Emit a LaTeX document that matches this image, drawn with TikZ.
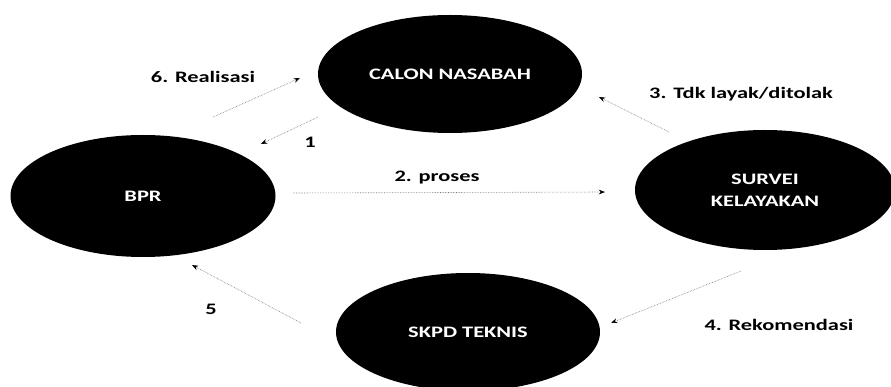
\documentclass[tikz,border=0pt]{standalone}
\usepackage{fontspec}
\setmainfont{Carlito}
\usetikzlibrary{shapes.geometric,arrows.meta}
\newcommand{\wide}[1]{\scalebox{1.4}[1]{#1}}
\tikzset{
blob/.style={
  ellipse,
  fill=black,
  text=white,
  font=\fontsize{16}{22}\selectfont\bfseries,
  align=center,
  inner sep=0pt
  },
lbl/.style={
  font=\fontsize{16}{20}\selectfont\bfseries,
  inner sep=0pt
  },
flow/.style={
  densely dotted,
  draw=black!55,
  line width=0.6pt,
  -{Stealth[scale=1.1,black]}
  }
}

\begin{document}
\begin{tikzpicture}[x=1pt,y=-1pt]
\useasboundingbox (0,0) rectangle (891,387);

\node[blob, minimum width=264pt, minimum height=118pt] (calon) at (450,74) {\wide{CALON NASABAH}};
\node[blob, minimum width=265pt, minimum height=122pt] (bpr) at (143,196) {\wide{BPR}};
\node[blob, minimum width=260pt, minimum height=120pt] (survei) at (765,190) {\wide{SURVEI}\\\wide{KELAYAKAN}};
\node[blob, minimum width=264pt, minimum height=118pt] (skpd) at (468,332) {\wide{SKPD TEKNIS}};

% 1
\begin{scope}
\coordinate (start) at (318,117);
\coordinate (end) at (261,144);
\draw[flow] (start) -- (end);
\node[lbl] (l1) at (310,142) {\wide{1}};
\end{scope}

% 2
\begin{scope}
\coordinate (start) at (293,193);
\coordinate (end) at (605,192);
\draw[flow] (start) -- (end);
\node[lbl] (l2) at (437,178) {\wide{2. proses}};
\end{scope}

% 3
\begin{scope}
\coordinate (start) at (669,132);
\coordinate (end) at (599,97);
\draw[flow] (start) -- (end);
\node[lbl] (l3) at (741,94) {\wide{3. Tdk layak/ditolak}};
\end{scope}

% 4
\begin{scope}
\coordinate (start) at (741,271);
\coordinate (end) at (611,323);
\draw[flow] (start) -- (end);
\node[lbl] (l4) at (779,325) {\wide{4. Rekomendasi}};
\end{scope}

% 5
\begin{scope}
\coordinate (start) at (301,323);
\coordinate (end) at (192,265);
\draw[flow] (start) -- (end);
\node[lbl] (l5) at (211,309) {\wide{5}};
\end{scope}

% 6
\begin{scope}
\coordinate (start) at (213,117);
\coordinate (end) at (300,78);
\draw[flow] (start) -- (end);
\node[lbl] (l6) at (203,77) {\wide{6. Realisasi}};
\end{scope}

\end{tikzpicture}
\end{document}
